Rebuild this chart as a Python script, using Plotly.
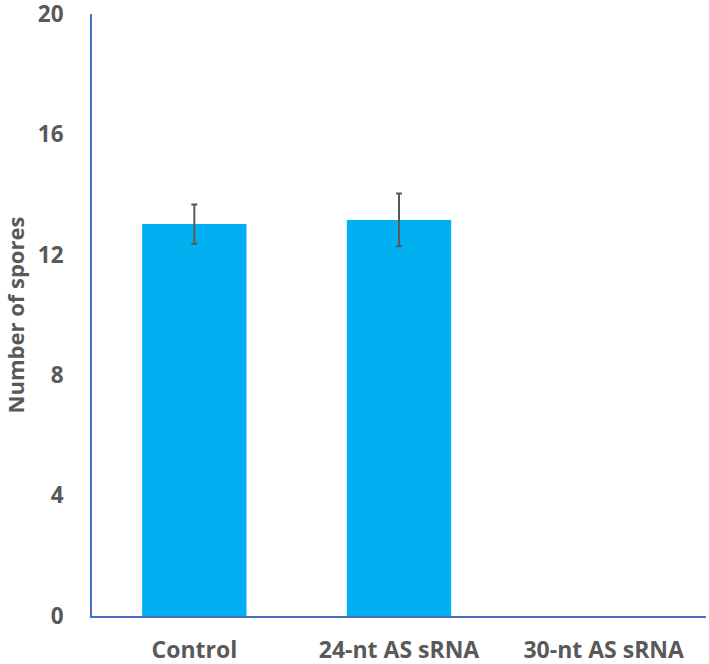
import plotly.graph_objects as go

categories = ["Control", "24-nt AS sRNA", "30-nt AS sRNA"]
values = [13.02, 13.16, 0]
errors = [0.65, 0.88, None]
y_ticks = [0, 4, 8, 12, 16, 20]

font_family = "'Open Sans', Lato, sans-serif"
gray = "#595959"
axis_blue = "#4472C4"

fig = go.Figure(go.Bar(
    x=categories, y=values,
    marker=dict(color="#00B0F0", line=dict(width=0)),
    width=0.51,
    hoverinfo="x+y",
))

# error bars only where an error value exists
err_x = [c for c, e in zip(categories, errors) if e is not None]
err_y = [v for v, e in zip(values, errors) if e is not None]
err_v = [e for e in errors if e is not None]
fig.add_trace(go.Scatter(
    x=err_x, y=err_y, mode="markers",
    marker=dict(size=0.1, color="rgba(0,0,0,0)"),
    error_y=dict(type="data", array=err_v, visible=True, color=gray, thickness=2, width=3),
    hoverinfo="skip",
))

fig.update_layout(
    width=709, height=664,
    margin=dict(l=92, r=3, t=14, b=48, autoexpand=False),
    plot_bgcolor="white", paper_bgcolor="white",
    showlegend=False,
    font=dict(family=font_family, color=gray, size=18),
)
fig.update_yaxes(
    range=[0, 20], tickvals=y_ticks, ticktext=[str(t) for t in y_ticks],
    showgrid=False, zeroline=False, automargin=False,
    showline=True, linecolor=axis_blue, linewidth=2,
    ticks="", ticklabelstandoff=22, ticklabeloverflow="allow",
    tickfont=dict(size=22.5, family=font_family, color=gray, weight="bold"),
    title=dict(text="<b>Number of spores</b>", font=dict(size=22, family=font_family, color=gray), standoff=23),
)
fig.update_xaxes(
    showgrid=False, zeroline=False, automargin=False,
    showline=True, linecolor=axis_blue, linewidth=2,
    ticks="", ticklabelstandoff=12, ticklabeloverflow="allow",
    tickfont=dict(size=23, family=font_family, color=gray, weight="bold"),
)

fig.write_html(
    "out.html",
    config={"displayModeBar": False},
    post_script="document.body.style.margin='0';document.body.style.overflow='hidden';",
)
